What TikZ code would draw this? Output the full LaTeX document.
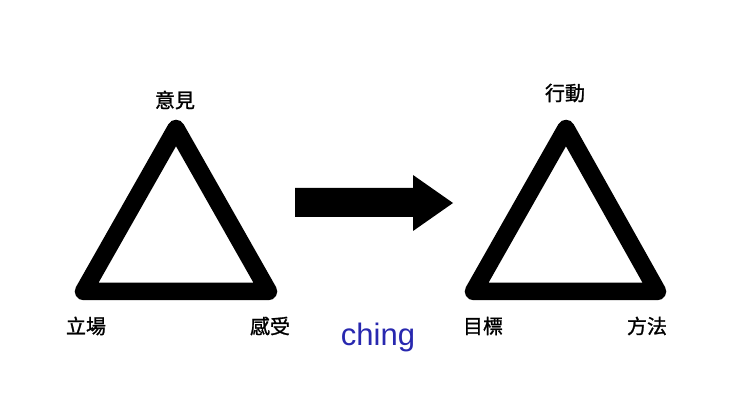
\documentclass[tikz,border=0pt]{standalone}
\usepackage{fontspec}
\setmainfont{Liberation Sans}
\newfontfamily\cjk[FakeBold=1.2]{Noto Sans CJK TC}
\definecolor{inkblue}{RGB}{40,40,175}
\begin{document}
\begin{tikzpicture}[x=1pt,y=-1pt,
  tri/.style={draw=black,line width=17.5pt,line join=round,line cap=round},
  lab/.style={font=\cjk\fontsize{20}{22}\selectfont,inner sep=0pt,anchor=center},
  bigarrow/.style={fill=black,draw=none}]
\useasboundingbox (0,0) rectangle (740,417);
\fill[white] (0,0) rectangle (740,417);
% left triangle
\coordinate (lt) at (176,128.5);
\coordinate (ll) at (83.5,291.5);
\coordinate (lr) at (268.5,291.5);
\draw[tri] (lt) -- (ll) -- (lr) -- cycle;
\node[lab] (yijian) at (175,100) {意見};
\node[lab] (lichang) at (86,326) {立場};
\node[lab] (ganshou) at (270,326) {感受};
% right triangle
\coordinate (rt) at (566,128.5);
\coordinate (rl) at (473.5,291.5);
\coordinate (rr) at (657.5,291.5);
\draw[tri] (rt) -- (rl) -- (rr) -- cycle;
\node[lab] (xingdong) at (565,93) {行動};
\node[lab] (mubiao) at (483,326) {目標};
\node[lab] (fangfa) at (647,326) {方法};
% arrow
\fill[bigarrow] (295,188) -- (413,188) -- (413,175) -- (453,203) -- (413,231) -- (413,217) -- (295,217) -- cycle;
% handwriting
\node[inner sep=0pt,text=inkblue,font=\fontsize{31}{33}\selectfont,anchor=base] (ching) at (378,345) {ching};
\end{tikzpicture}
\end{document}
